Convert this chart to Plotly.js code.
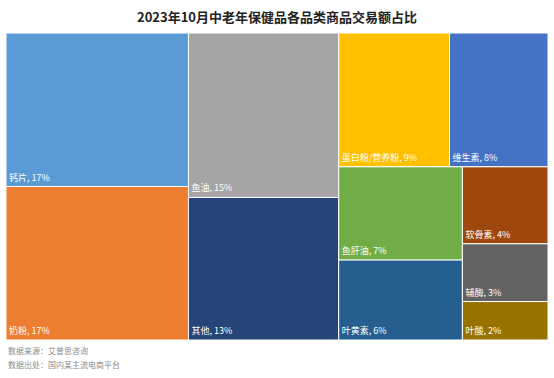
<!DOCTYPE html>
<html>
<head>
<meta charset="utf-8">
<script src="https://cdn.plot.ly/plotly-3.0.1.min.js"></script>
<style>body{margin:0;background:#fff;} #chart{width:554px;height:378px;}</style>
</head>
<body>
<div id="chart"></div>
<script>
// Categories and share (%) of transaction value
const categories = ["钙片", "奶粉", "鱼油", "其他", "蛋白粉/营养粉", "维生素", "鱼肝油", "叶黄素", "软骨素", "辅酶", "叶酸"];
const shares = [17, 17, 15, 13, 9, 8, 7, 6, 4, 3, 2];
const colors = ["#5B9BD5", "#ED7D31", "#A5A5A5", "#264478", "#FFC000", "#4472C4", "#70AD47", "#255E91", "#9E480E", "#636363", "#997300"];
// layout grouping (invisible groups to reproduce the tile arrangement)
const groupOf = ["colA", "colA", "colB", "colB", "row1", "row1", "sub1", "sub1", "sub2", "sub2", "sub2"];
const groups = ["colA", "colB", "colC", "row1", "row2", "sub1", "sub2"];
const groupParents = ["", "", "", "colC", "colC", "row2", "row2"];

const ids = groups.concat(categories);
const labels = groups.map(() => "").concat(categories);
const parents = groupParents.concat(groupOf);
const values = groups.map(() => 0).concat(shares);
const texts = groups.map(() => "").concat(categories.map((c, i) => c + ", " + shares[i] + "%"));
const cols = groups.map(() => "#ffffff").concat(colors);

const trace = {
  type: "treemap",
  ids: ids,
  labels: labels,
  parents: parents,
  values: values,
  branchvalues: "remainder",
  sort: false,
  text: texts,
  texttemplate: "%{text}",
  textinfo: "text",
  textposition: "bottom left",
  textfont: {family: "Noto Sans CJK SC, sans-serif", size: 9, color: "#ffffff"},
  tiling: {packing: "slice-dice", pad: 0},
  pathbar: {visible: false},
  marker: {colors: cols, line: {width: 1, color: "#ffffff"}, pad: {t: 0, l: 0, r: 0, b: 0}},
  root: {color: "#ffffff"},
  hoverinfo: "none"
};

const layout = {
  width: 554, height: 378,
  margin: {l: 6, r: 6, t: 33, b: 38},
  paper_bgcolor: "#ffffff",
  font: {family: "Noto Sans CJK SC, sans-serif"},
  title: {text: "<b>2023年10月中老年保健品各品类商品交易额占比</b>", x: 0.5, xanchor: "center", y: 0.955, yanchor: "middle",
          font: {family: "Noto Sans CJK SC, sans-serif", size: 13, color: "#222222"}},
  annotations: [
    {text: "数据来源：艾普思咨询", xref: "paper", yref: "paper", x: 0, y: -0.035, xanchor: "left", yanchor: "middle", showarrow: false,
     font: {size: 8, color: "#8c8c8c"}},
    {text: "数据出处：国内某主流电商平台", xref: "paper", yref: "paper", x: 0, y: -0.08, xanchor: "left", yanchor: "middle", showarrow: false,
     font: {size: 8, color: "#8c8c8c"}}
  ]
};

Plotly.newPlot("chart", [trace], layout, {displayModeBar: false, staticPlot: true});
</script>
</body>
</html>
